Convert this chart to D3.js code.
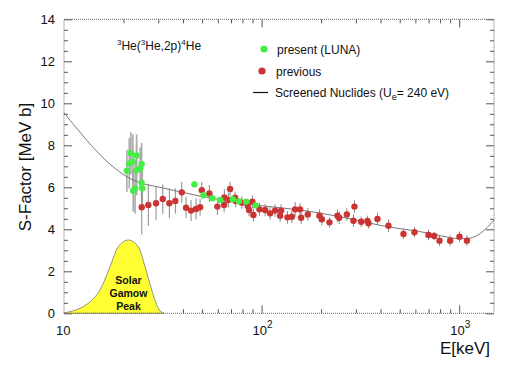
<!DOCTYPE html>
<html>
<head>
<meta charset="utf-8">
<script src="https://cdn.jsdelivr.net/npm/d3@7"></script>
<style>
  body { margin: 0; background: #fff; }
  text { font-family: "Liberation Sans", Arial, Helvetica, sans-serif; fill: #111; }
</style>
</head>
<body>
<div id="chart"></div>
<script>
// LUNA data (green): energy [keV], S-factor [MeV b], error
var lunaE   = [20.8, 21.4, 21.8, 22.3, 22.4, 22.9, 23.3, 23.3, 24.3, 24.7, 24.7, 24.9, 45.7, 50.8, 56.4, 61.7, 71.5, 76.7, 83.5, 93.2];
var lunaS   = [6.79, 7.14, 7.62, 7.22, 5.84, 5.95, 7.52, 6.82, 6.9, 7.11, 6.22, 5.95, 6.14, 5.62, 5.48, 5.4, 5.43, 5.33, 5.32, 5.14];
var lunaErr = [1.0, 1.2, 1.0, 1.3, 1.0, 1.2, 1.0, 1.2, 1.0, 1.0, 0.9, 0.8, 0.15, 0.12, 0.1, 0.1, 0.1, 0.1, 0.1, 0.1];

// previous data (red)
var prevE = [24.74, 26.72, 29.23, 31.61, 34.14, 36.6, 39.45, 41.47, 43.95, 46.6, 48.83, 49.8, 54.4, 59.74, 64.8, 64.6,
  69.27, 67.9, 73.4, 74.0, 79.4, 85.1, 89.8, 86.4, 90.9, 97.5, 104.2, 110.4, 117.0, 125.5, 124.1, 135.1, 142.2,
  147.8, 156.6, 158.5, 171.3, 196.2, 201.8, 220.5, 242, 246.9, 270, 295.1, 291.6, 319, 343.3, 347.4, 385.8,
  438.5, 522.4, 593.8, 699.3, 747.1, 794.9, 900.3, 1003.5, 1094];
var prevS = [5.05, 5.16, 5.24, 5.44, 5.24, 5.35, 5.76, 5.03, 4.89, 4.97, 5.05, 5.86, 5.71, 5.08, 5.52, 5.16,
  5.92, 5.40, 5.50, 5.35, 5.27, 5.11, 5.31, 4.92, 4.68, 4.95, 4.92, 4.76, 4.89, 4.89, 4.65, 4.57, 4.60,
  4.95, 4.95, 4.55, 4.71, 4.65, 4.48, 4.33, 4.65, 4.55, 4.71, 5.08, 4.41, 4.36, 4.40, 4.29, 4.49,
  4.17, 3.78, 3.86, 3.73, 3.68, 3.46, 3.46, 3.65, 3.46];
var prevErr = [1.3, 1.0, 0.8, 0.7, 0.7, 0.6, 0.5, 0.5, 0.5, 0.5, 0.4, 0.4, 0.4, 0.4, 0.4, 0.35,
  0.35, 0.35, 0.3, 0.3, 0.3, 0.3, 0.3, 0.3, 0.3, 0.3, 0.3, 0.3, 0.3, 0.3, 0.3, 0.3, 0.3,
  0.35, 0.3, 0.3, 0.3, 0.3, 0.3, 0.25, 0.3, 0.3, 0.3, 0.3, 0.3, 0.25, 0.25, 0.25, 0.3,
  0.3, 0.25, 0.25, 0.25, 0.2, 0.25, 0.25, 0.25, 0.25];

// screened nuclides curve
var curveE = [10, 12.48, 15.22, 17.1, 20.84, 24.26, 30.6, 38.6, 48.8, 69.3, 98.2, 156.6, 249, 447, 634, 801, 1012, 1137, 1277, 1500];
var curveS = [9.55, 8.45, 7.55, 7.1, 6.5, 6.22, 6.0, 5.79, 5.58, 5.35, 5.13, 4.92, 4.6, 4.1, 3.89, 3.7, 3.55, 3.58, 3.8, 4.44];

// solar Gamow peak outline
var gamowE = [10, 12.05, 13.54, 15.22, 17.1, 18.83, 21.17, 23.78, 25.71, 27.8, 30.0, 32.08];
var gamowS = [0.02, 0.24, 0.55, 1.11, 2.22, 3.17, 3.49, 3.17, 2.22, 1.11, 0.24, 0.0];

// ticks
var yMajor = [0, 2, 4, 6, 8, 10, 12, 14];
var xMajor = [100, 1000];
var xLabels = [{v: 10, b: "10", e: ""}, {v: 100, b: "10", e: "2"}, {v: 1000, b: "10", e: "3"}];

var svgWidth = 510, svgHeight = 373;
var plotLeft = 64, plotRight = 494, plotTop = 19.3, plotBottom = 313.3;

var svg = d3.select("#chart").append("svg")
    .attr("width", svgWidth)
    .attr("height", svgHeight);

var x = d3.scaleLog().domain([10, 1500]).range([plotLeft, plotRight]);
var y = d3.scaleLinear().domain([0, 14]).range([plotBottom, plotTop]);

var yMinor = d3.range(0, 14.01, 0.5).filter(d => d % 2 !== 0);
var xMinor = [];
[10, 100].forEach(function(dec) {
    for (var k = 2; k <= 9; k++) xMinor.push(dec * k);
});

var tickColor = "#555";
function styleAxis(g) {
    g.select(".domain").remove();
    g.selectAll("line").attr("stroke", tickColor);
    g.selectAll("text").remove();
}

// inward ticks on all four sides
svg.append("g").attr("transform", `translate(0,${plotBottom})`)
    .call(d3.axisBottom(x).tickValues(xMinor).tickSize(-4)).call(styleAxis);
svg.append("g").attr("transform", `translate(0,${plotBottom})`)
    .call(d3.axisBottom(x).tickValues(xMajor).tickSize(-8)).call(styleAxis);
svg.append("g").attr("transform", `translate(0,${plotTop})`)
    .call(d3.axisTop(x).tickValues(xMinor).tickSize(-4)).call(styleAxis);
svg.append("g").attr("transform", `translate(0,${plotTop})`)
    .call(d3.axisTop(x).tickValues(xMajor).tickSize(-8)).call(styleAxis);
svg.append("g").attr("transform", `translate(${plotLeft},0)`)
    .call(d3.axisLeft(y).tickValues(yMinor).tickSize(-4)).call(styleAxis);
svg.append("g").attr("transform", `translate(${plotLeft},0)`)
    .call(d3.axisLeft(y).tickValues(yMajor).tickSize(-8)).call(styleAxis);
svg.append("g").attr("transform", `translate(${plotRight},0)`)
    .call(d3.axisRight(y).tickValues(yMinor).tickSize(-4)).call(styleAxis);
svg.append("g").attr("transform", `translate(${plotRight},0)`)
    .call(d3.axisRight(y).tickValues(yMajor).tickSize(-8)).call(styleAxis);

// Gamow peak
var gamow = gamowE.map((e, i) => ({e: e, s: gamowS[i]}));
svg.append("path")
    .datum(gamow)
    .attr("fill", "#ffff33")
    .attr("stroke", "#777")
    .attr("stroke-width", 0.8)
    .attr("d", d3.area().x(d => x(d.e)).y0(y(0)).y1(d => y(d.s)).curve(d3.curveMonotoneX));

svg.append("text")
    .attr("x", x(21.2)).attr("y", 284)
    .attr("text-anchor", "middle")
    .style("font-size", "10.5px").style("font-weight", "bold")
    .selectAll("tspan").data(["Solar", "Gamow", "Peak"]).enter().append("tspan")
    .attr("x", x(21.2)).attr("dy", (d, i) => i === 0 ? 0 : 13)
    .text(d => d);

// frame
svg.append("rect")
    .attr("x", plotLeft).attr("y", plotTop)
    .attr("width", plotRight - plotLeft).attr("height", plotBottom - plotTop)
    .attr("fill", "none")
    .attr("stroke", "#666")
    .attr("stroke-dasharray", "1,1");

// data points
var luna = lunaE.map((e, i) => ({e: e, s: lunaS[i], err: lunaErr[i]}));
var prev = prevE.map((e, i) => ({e: e, s: prevS[i], err: prevErr[i]}));

svg.append("g").selectAll("line").data(luna).enter().append("line")
    .attr("x1", d => x(d.e)).attr("x2", d => x(d.e))
    .attr("y1", d => y(d.s - d.err)).attr("y2", d => y(d.s + d.err))
    .attr("stroke", "#aaa").attr("stroke-width", 1.6);

svg.append("g").selectAll("line").data(prev).enter().append("line")
    .attr("x1", d => x(d.e)).attr("x2", d => x(d.e))
    .attr("y1", d => y(d.s - d.err)).attr("y2", d => y(d.s + d.err))
    .attr("stroke", "#888").attr("stroke-width", 1);

// screened nuclides curve
var curve = curveE.map((e, i) => ({e: e, s: curveS[i]}));
svg.append("path")
    .datum(curve)
    .attr("fill", "none")
    .attr("stroke", "#777")
    .attr("stroke-width", 1)
    .attr("d", d3.line().x(d => x(d.e)).y(d => y(d.s)).curve(d3.curveMonotoneX));

svg.append("g").selectAll("circle").data(prev).enter().append("circle")
    .attr("cx", d => x(d.e)).attr("cy", d => y(d.s))
    .attr("r", 3.2).attr("fill", "#cc3333");

svg.append("g").selectAll("circle").data(luna).enter().append("circle")
    .attr("cx", d => x(d.e)).attr("cy", d => y(d.s))
    .attr("r", 3.2).attr("fill", "#44ee44");

// tick labels
svg.append("g").selectAll("text").data(yMajor).enter().append("text")
    .attr("x", 55).attr("y", d => y(d) + 5)
    .attr("text-anchor", "end")
    .style("font-size", "13px")
    .text(d => d);

var xl = svg.append("g").selectAll("text").data(xLabels).enter().append("text")
    .attr("x", d => x(d.v) + (d.e ? -9 : -8)).attr("y", 335)
    .style("font-size", "13px");
xl.append("tspan").text(d => d.b);
xl.append("tspan").attr("dy", -7).style("font-size", "10px").text(d => d.e);

// axis titles
svg.append("text")
    .attr("transform", "translate(31,167) rotate(-90)")
    .attr("text-anchor", "middle")
    .style("font-size", "17px")
    .text("S-Factor [MeV b]");

svg.append("text")
    .attr("x", 490).attr("y", 354)
    .attr("text-anchor", "end")
    .style("font-size", "17px")
    .text("E[keV]");

// reaction label
var rl = svg.append("text").attr("x", 117).attr("y", 50).style("font-size", "12px");
rl.append("tspan").attr("dy", -5).style("font-size", "8px").text("3");
rl.append("tspan").attr("dy", 5).text("He(");
rl.append("tspan").attr("dy", -5).style("font-size", "8px").text("3");
rl.append("tspan").attr("dy", 5).text("He,2p)");
rl.append("tspan").attr("dy", -5).style("font-size", "8px").text("4");
rl.append("tspan").attr("dy", 5).text("He");

// legend
svg.append("circle").attr("cx", 264).attr("cy", 49).attr("r", 3.6).attr("fill", "#44ee44");
svg.append("text").attr("x", 277).attr("y", 53.5).style("font-size", "12px").text("present (LUNA)");
svg.append("circle").attr("cx", 262).attr("cy", 71).attr("r", 3.6).attr("fill", "#cc3333");
svg.append("text").attr("x", 276).attr("y", 75.5).style("font-size", "12px").text("previous");
svg.append("line").attr("x1", 253).attr("x2", 268).attr("y1", 92.5).attr("y2", 92.5)
    .attr("stroke", "#111").attr("stroke-width", 1.2);
var lt = svg.append("text").attr("x", 275).attr("y", 96.5).style("font-size", "12px");
lt.append("tspan").text("Screened Nuclides (U");
lt.append("tspan").attr("dy", 3).style("font-size", "9px").text("e");
lt.append("tspan").attr("dy", -3).text("= 240 eV)");
</script>
</body>
</html>
